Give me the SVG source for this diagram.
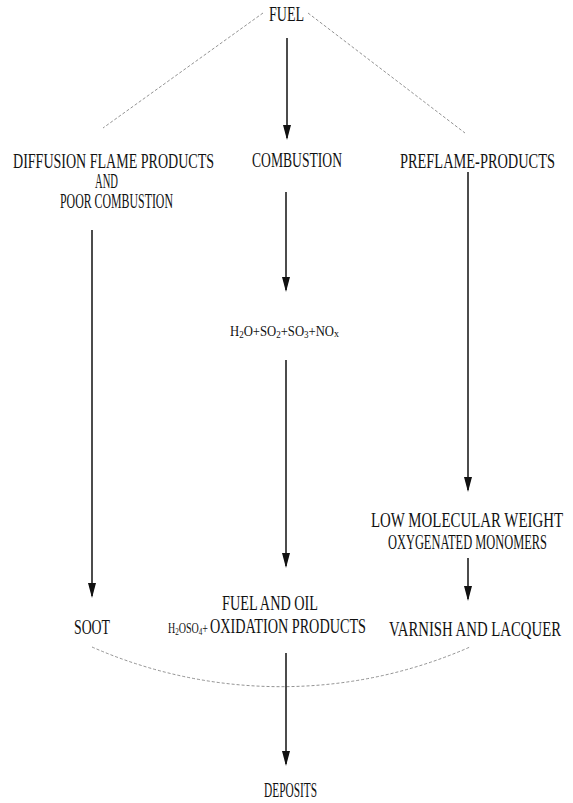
<svg xmlns="http://www.w3.org/2000/svg" width="573" height="803" viewBox="0 0 573 803">
<style>
  text { font-family: "Liberation Serif", "Times New Roman", serif; font-size: 20px; fill: #111; }
  .sm { font-size: 14px; }
  .arrow { stroke: #111; stroke-width: 1.5; fill: none; }
  .dash { stroke: #777; stroke-width: 0.8; stroke-dasharray: 3 2; fill: none; }
</style>
<defs>
  <marker id="ah" markerUnits="userSpaceOnUse" markerWidth="15" markerHeight="8" viewBox="0 0 15 8" refX="13" refY="4" orient="auto">
    <path d="M0,0 L15,4 L0,8 z" fill="#111"/>
  </marker>
</defs>
<rect width="573" height="803" fill="#fff"/>

<g id="connectors">
  <line class="dash" x1="263" y1="13" x2="103" y2="128"/>
  <line class="dash" x1="308" y1="13" x2="465" y2="133"/>
  <line class="arrow" x1="287" y1="38" x2="287" y2="138" marker-end="url(#ah)"/>
  <line class="arrow" x1="286" y1="192" x2="286" y2="290" marker-end="url(#ah)"/>
  <line class="arrow" x1="286" y1="360" x2="286" y2="566" marker-end="url(#ah)"/>
  <line class="arrow" x1="92" y1="230" x2="92" y2="596" marker-end="url(#ah)"/>
  <line class="arrow" x1="468" y1="172" x2="468" y2="490" marker-end="url(#ah)"/>
  <line class="arrow" x1="468" y1="558" x2="468" y2="599" marker-end="url(#ah)"/>
  <path class="dash" d="M92,647 A470,470 0 0 0 470,647"/>
  <line class="arrow" x1="286" y1="653" x2="286" y2="764" marker-end="url(#ah)"/>
</g>

<g id="fuel"><text x="269" y="21" textLength="35" lengthAdjust="spacingAndGlyphs">FUEL</text></g>

<g id="diffusion">
  <text x="13" y="168" textLength="201" lengthAdjust="spacingAndGlyphs">DIFFUSION FLAME PRODUCTS</text>
  <text x="95" y="188" textLength="23" lengthAdjust="spacingAndGlyphs">AND</text>
  <text x="60" y="208" textLength="113" lengthAdjust="spacingAndGlyphs">POOR COMBUSTION</text>
</g>

<g id="combustion"><text x="252" y="167" textLength="90" lengthAdjust="spacingAndGlyphs">COMBUSTION</text></g>

<g id="preflame"><text x="400" y="168" textLength="155" lengthAdjust="spacingAndGlyphs">PREFLAME-PRODUCTS</text></g>

<g id="gases"><text class="sm" x="230" y="336" textLength="109" lengthAdjust="spacingAndGlyphs">H<tspan font-size="10" dy="2">2</tspan><tspan dy="-2">O+SO</tspan><tspan font-size="10" dy="2">2</tspan><tspan dy="-2">+SO</tspan><tspan font-size="10" dy="2">3</tspan><tspan dy="-2">+NO</tspan><tspan font-size="11" dy="1">x</tspan></text></g>

<g id="monomers">
  <text x="371" y="527" textLength="192" lengthAdjust="spacingAndGlyphs">LOW MOLECULAR WEIGHT</text>
  <text x="388" y="549" textLength="159" lengthAdjust="spacingAndGlyphs">OXYGENATED MONOMERS</text>
</g>

<g id="soot"><text x="74" y="634" textLength="36" lengthAdjust="spacingAndGlyphs">SOOT</text></g>

<g id="fueloil">
  <text x="222" y="610" textLength="96" lengthAdjust="spacingAndGlyphs">FUEL AND OIL</text>
  <text class="sm" x="168" y="633" textLength="40" lengthAdjust="spacingAndGlyphs">H<tspan font-size="10" dy="2">2</tspan><tspan dy="-2">OSO</tspan><tspan font-size="10" dy="2">4</tspan><tspan dy="-2">+</tspan></text>
  <text x="210" y="633" textLength="156" lengthAdjust="spacingAndGlyphs">OXIDATION PRODUCTS</text>
</g>

<g id="varnish"><text x="389" y="636" textLength="172" lengthAdjust="spacingAndGlyphs">VARNISH AND LACQUER</text></g>

<g id="deposits"><text x="264" y="797" textLength="53" lengthAdjust="spacingAndGlyphs">DEPOSITS</text></g>
</svg>
